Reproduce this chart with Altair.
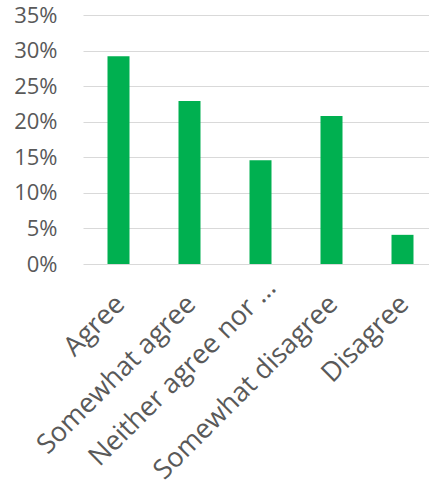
import altair as alt
import pandas as pd

# Survey responses and the share of respondents choosing each one
categories = ["Agree", "Somewhat agree", "Neither agree nor …", "Somewhat disagree", "Disagree"]
shares = [0.292, 0.229, 0.146, 0.208, 0.041]
y_ticks = [0.0, 0.05, 0.10, 0.15, 0.20, 0.25, 0.30, 0.35]

df = pd.DataFrame({"response": categories, "share": shares})

FONT = "Open Sans"
TEXT = "#595959"

base = alt.Chart(df)

x_enc = alt.X(
    "response:N",
    sort=categories,
    title=None,
    scale=alt.Scale(range=[0, 355], paddingInner=0, paddingOuter=0),
    axis=None,
)

y_scale = alt.Scale(domain=[0, 0.35], nice=False)
y_axis = alt.Axis(
    values=y_ticks,
    format=".0%",
    labelFont=FONT,
    labelFontSize=22,
    labelColor=TEXT,
    labelPadding=26,
    ticks=False,
    tickSize=0,
    domain=False,
    gridColor="#d9d9d9",
    gridWidth=1.2,
)

bars = base.mark_bar(color="#00b050", size=22).encode(
    x=x_enc,
    y=alt.Y("share:Q", title=None, scale=y_scale, axis=y_axis),
)

# Category labels, slanted at 45 degrees and ending under each bar.
# dx/dy act in the rotated frame of the text.
label_style = dict(angle=315, align="right", baseline="middle",
                   font=FONT, fontSize=27, color=TEXT)
label_y = alt.YDatum(0, scale=y_scale, axis=y_axis, title=None)

labels = base.transform_filter(alt.datum.response != categories[2]).mark_text(
    dx=-24, dy=27, **label_style
).encode(x=x_enc, y=label_y, text="response:N")

# the shortened label sits a little higher along its slant
short_label = base.transform_filter(alt.datum.response == categories[2]).mark_text(
    dx=-6, dy=22, **label_style
).encode(x=x_enc, y=label_y, text="response:N")

chart = (
    alt.layer(bars, labels, short_label)
    .properties(
        width=346,
        height=249,
        autosize=alt.AutoSizeParams(type="none"),
        padding={"left": 83, "top": 15, "right": 0, "bottom": 224},
        background="white",
    )
    .configure_view(stroke=None)
)

chart.save("out.html", embed_options={"renderer": "svg", "actions": False})
